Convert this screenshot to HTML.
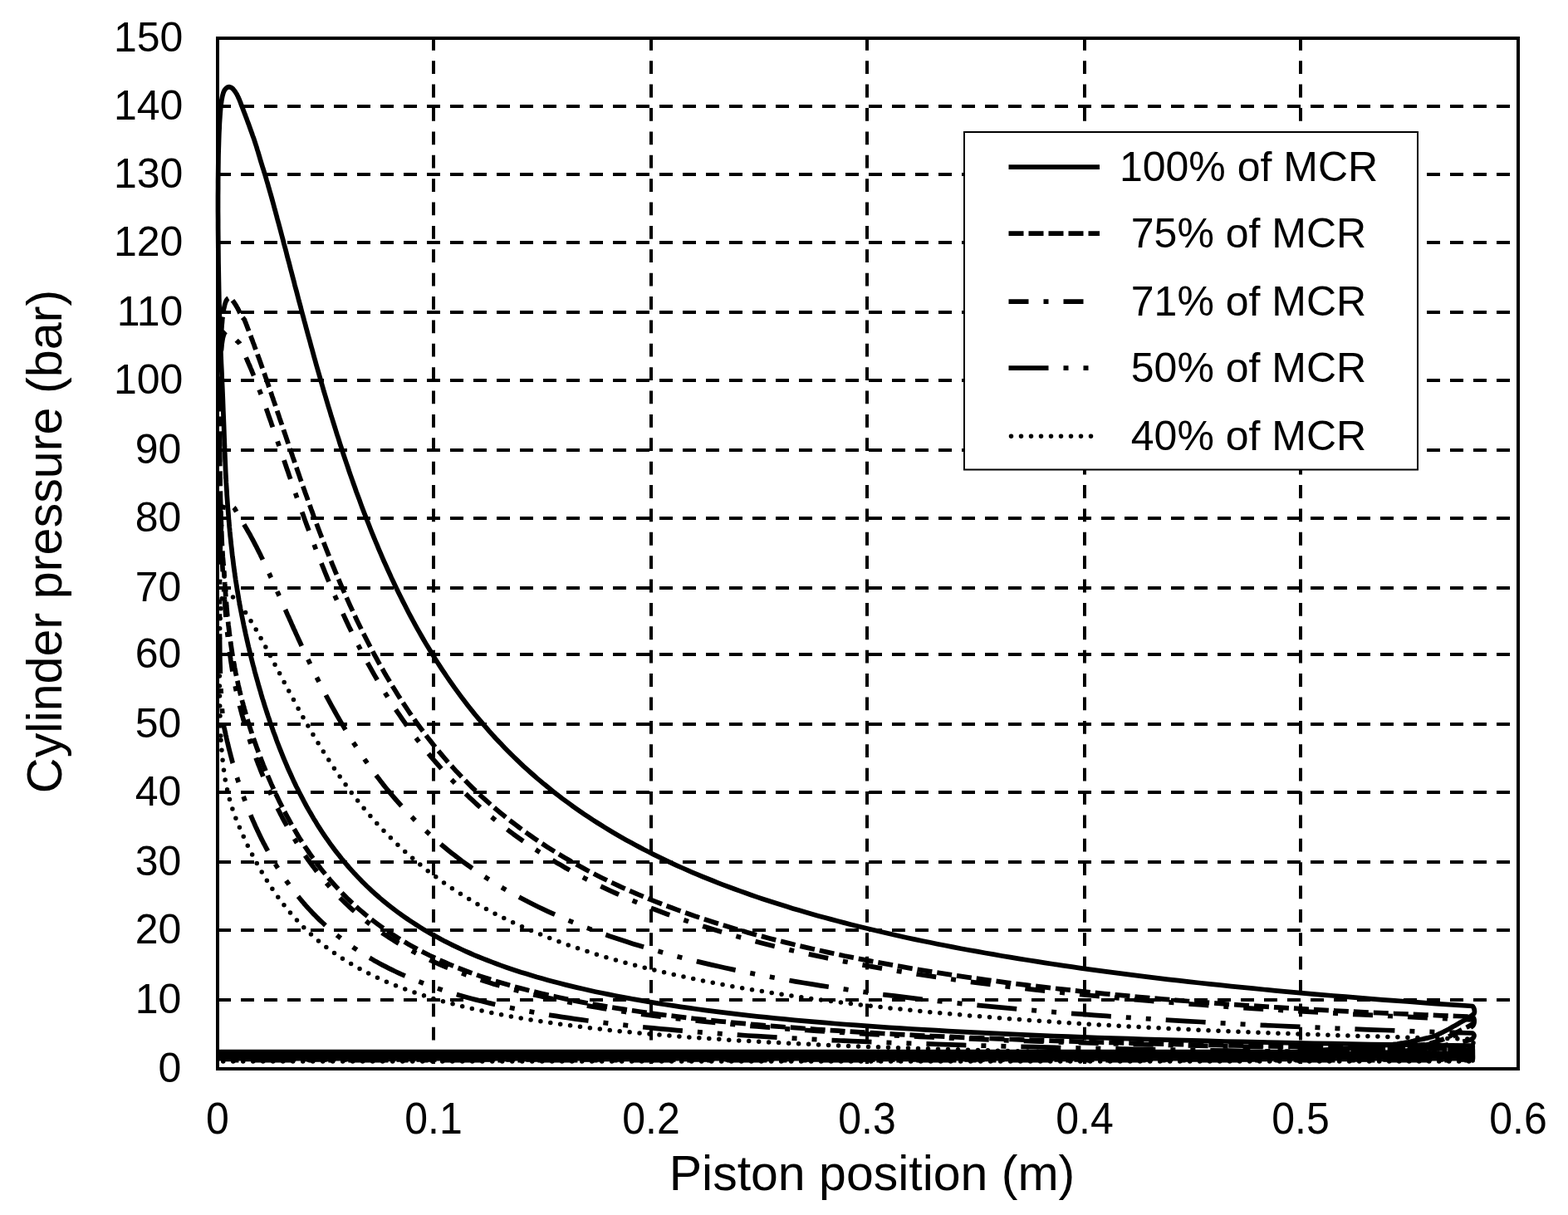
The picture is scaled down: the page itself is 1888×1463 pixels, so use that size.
<!DOCTYPE html><html><head><meta charset="utf-8"><title>Cylinder pressure vs piston position</title><style>html,body{margin:0;padding:0;background:#fff;overflow:hidden}svg{display:block}</style></head><body><svg width="1888" height="1463" viewBox="0 0 1888 1463">
<rect width="1888" height="1463" fill="#fff"/>
<path d="M262 128H1828M262 210H1828M262 292H1828M262 376H1828M262 458H1828M262 542H1828M262 624H1828M262 708H1828M262 788H1828M262 872H1828M262 954H1828M262 1038H1828M262 1120H1828M262 1204H1828" stroke="#000" stroke-width="4" stroke-dasharray="16 12" fill="none"/>
<path d="M522 46V1287M784 46V1287M1044 46V1287M1306 46V1287M1566 46V1287" stroke="#000" stroke-width="4" stroke-dasharray="15.8 12.58" stroke-dashoffset="1.14" fill="none"/>
<rect x="263" y="1266" width="1509" height="10.5" fill="#000"/>
<path d="M1773.2 1277.9L1773.2 1272.8 1743.4 1272.6 1714.2 1272.4 1685.5 1272.2 1657.5 1271.9 1629.9 1271.7 1603.0 1271.5 1576.5 1271.2 1550.6 1270.9 1525.2 1270.7 1500.3 1270.4 1475.8 1270.1 1451.9 1269.8 1428.4 1269.4 1405.4 1269.1 1382.9 1268.7 1360.8 1268.4 1339.1 1268.0 1317.9 1267.6 1297.0 1267.2 1276.6 1266.8 1256.6 1266.4 1237.0 1266.0 1217.8 1265.5 1198.9 1265.1 1180.4 1264.6 1162.3 1264.1 1144.6 1263.6 1127.2 1263.1 1110.1 1262.6 1093.4 1262.1 1077.0 1261.5 1060.9 1260.9 1045.1 1260.4 1029.7 1259.8 1014.6 1259.2 999.7 1258.5 985.2 1257.9 970.9 1257.2 956.9 1256.6 943.2 1255.9 929.8 1255.2 916.6 1254.5 903.7 1253.7 891.0 1253.0 878.6 1252.2 866.5 1251.4 854.6 1250.6 842.9 1249.8 831.4 1249.0 820.2 1248.2 809.2 1247.3 798.4 1246.4 787.8 1245.5 777.4 1244.6 767.3 1243.7 757.3 1242.7 747.5 1241.8 738.0 1240.8 728.6 1239.8 719.4 1238.8 710.4 1237.7 701.5 1236.7 692.8 1235.6 684.3 1234.5 676.0 1233.4 667.9 1232.3 659.8 1231.1 652.0 1230.0 644.3 1228.8 636.8 1227.6 629.4 1226.4 622.1 1225.2 615.0 1223.9 608.1 1222.6 601.2 1221.4 594.6 1220.0 588.0 1218.7 581.6 1217.4 575.3 1216.0 569.1 1214.6 563.0 1213.2 557.1 1211.8 551.3 1210.4 545.6 1208.9 540.0 1207.5 534.5 1206.0 529.1 1204.5 523.8 1203.0 518.7 1201.4 513.6 1199.9 508.7 1198.3 503.8 1196.7 499.0 1195.1 494.4 1193.5 489.8 1191.8 485.3 1190.2 480.9 1188.5 476.6 1186.8 472.3 1185.1 468.2 1183.4 464.1 1181.7 460.1 1179.9 456.2 1178.1 452.4 1176.4 448.6 1174.6 445.0 1172.7 441.3 1170.9 437.8 1169.1 434.3 1167.2 430.9 1165.4 427.6 1163.5 424.3 1161.6 421.1 1159.7 418.0 1157.8 414.9 1155.8 411.9 1153.9 409.0 1152.0 406.1 1150.0 403.2 1148.0 400.4 1146.1 397.7 1144.1 395.0 1142.1 392.4 1140.1 389.8 1138.1 387.3 1136.0 384.8 1134.0 382.4 1132.0 380.0 1129.9 377.7 1127.9 375.4 1125.9 373.2 1123.8 371.0 1121.7 368.8 1119.7 366.7 1117.6 364.7 1115.6 362.6 1113.5 360.7 1111.4 358.7 1109.4 356.8 1107.3 354.9 1105.2 353.1 1103.2 351.3 1101.1 349.5 1099.1 347.8 1097.0 346.1 1094.9 344.5 1092.9 342.8 1090.9 341.3 1088.8 339.7 1086.8 338.2 1084.8 336.7 1082.7 335.2 1080.7 333.7 1078.7 332.3 1076.7 330.9 1074.8 329.6 1072.8 328.2 1070.8 326.9 1068.9 325.7 1066.9 324.4 1065.0 323.2 1063.1 322.0 1061.2 320.8 1059.3 319.6 1057.4 318.5 1055.5 317.4 1053.7 316.3 1051.8 315.2 1050.0 314.2 1048.2 313.1 1046.4 312.1 1044.6 311.1 1042.9 310.2 1041.1 309.2 1039.4 308.3 1037.7 307.4 1036.0 306.5 1034.3 305.6 1032.6 304.7 1031.0 303.9 1029.4 303.1 1027.8 302.3 1026.2 301.5 1024.6 300.7 1023.0 299.9 1021.5 299.2 1020.0 298.4 1018.5 297.7 1017.0 297.0 1015.5 296.3 1014.1 295.7 1012.6 295.0 1011.2 294.3 1009.8 293.7 1008.4 293.1 1007.0 292.5 1005.7 291.9 1004.3 291.3 1003.0 290.7 1001.7 290.1 1000.4 289.6 999.1 289.0 997.8 288.5 996.6 288.0 995.3 287.5 994.1 287.0 992.9 286.5 991.7 286.0 990.5 285.5 989.3 285.0 988.1 284.6 987.0 284.1 985.8 283.7 984.7 283.3 983.5 282.9 982.4 282.5 981.3 282.0 980.2 281.7 979.1 281.3 978.0 280.9 976.9 280.5 975.8 280.1 974.7 279.8 973.6 279.4 972.6 279.1 971.5 278.8 970.4 278.4 969.4 278.1 968.3 277.8 967.3 277.5 966.2 277.2 965.2 276.9 964.1 276.6 963.1 276.3 962.0 276.0 961.0 275.7 960.0 275.5 958.9 275.2 957.9 274.9 956.8 274.7 955.8 274.4 954.7 274.2 953.7 273.9 952.6 273.7 951.6 273.5 950.5 273.3 949.5 273.0 948.4 272.8 947.4 272.6 946.3 272.4 945.2 272.2 944.2 272.0 943.1 271.8 942.0 271.6 940.9 271.4 939.9 271.2 938.8 271.0 937.7 270.9 936.6 270.7 935.5 270.5 934.4 270.3 933.3 270.2 932.2 270.0 931.1 269.9 930.0 269.7 928.9 269.6 927.8 269.4 926.7 269.3 925.6 269.1 924.5 269.0 923.4 268.8 922.2 268.7 921.1 268.6 920.0 268.4 918.9 268.3 917.7 268.2 916.6 268.1 915.5 267.9 914.3 267.8 913.2 267.7 912.1 267.6 910.9 267.5 909.8 267.4 908.7 267.3 907.5 267.2 906.4 267.1 905.3 267.0 904.1 266.9 903.0 266.8 901.9 266.7 900.8 266.6 899.6 266.5 898.5 266.4 897.4 266.3 896.3 266.2 895.2 266.2 894.1 266.1 892.9 266.0 891.8 265.9 890.7 266.1 892.9 266.0 892.2 266.0 893.3 266.0 892.8 265.9 890.7 265.8 887.0 265.6 881.8 265.4 875.8 265.2 869.3 265.0 862.8 264.9 856.8 264.7 851.3 264.6 846.0 264.5 840.7 264.5 835.3 264.4 829.7 264.3 823.7 264.3 817.2 264.3 810.4 264.3 803.3" fill="none" stroke="#000" stroke-width="5.5" stroke-linejoin="round" stroke-dasharray="0 12" stroke-linecap="round" stroke-dashoffset="11.1"/>
<path d="M264.3 803.3L264.3 796.1 264.3 789.1 264.3 782.3 264.4 775.7 264.5 769.2 264.6 762.7 264.7 756.4 264.9 750.5 265.1 745.1 265.4 740.1 265.7 735.3 266.0 730.9 266.4 726.9 266.8 723.4 267.2 720.3 267.7 717.7 268.2 715.7 268.7 714.1 269.2 712.9 269.8 711.9 270.4 711.2 270.9 710.7 271.5 710.6 272.0 710.8 272.6 711.2 273.2 711.6 273.7 712.0 274.3 712.4 274.9 712.9 275.5 713.5 276.0 714.1 276.6 714.7 277.1 715.3 277.7 715.9 278.2 716.5 278.8 717.1 279.3 717.7 279.7 718.1 280.2 718.7 280.8 719.3 281.4 719.9 282.0 720.5 282.6 721.1 283.2 721.8 283.8 722.5 284.5 723.3 284.8 723.6 285.2 724.0 285.5 724.4 285.9 724.8 286.2 725.3 286.6 725.7 286.9 726.1 287.3 726.6 287.7 727.0 288.1 727.5 288.5 728.0 288.9 728.5 289.3 729.0 289.7 729.5 290.1 730.1 290.5 730.6 290.9 731.2 291.4 731.8 291.8 732.4 292.2 733.0 292.7 733.6 293.2 734.2 293.6 734.9 294.1 735.5 294.6 736.2 295.1 736.9 295.6 737.6 296.1 738.4 296.6 739.1 297.1 739.9 297.6 740.7 298.1 741.5 298.7 742.3 299.2 743.2 299.8 744.0 300.3 744.9 300.9 745.8 301.5 746.7 302.1 747.7 302.7 748.7 303.3 749.7 303.9 750.7 304.5 751.7 305.2 752.8 305.8 753.8 306.5 754.9 307.1 756.1 307.8 757.2 308.5 758.4 309.2 759.6 309.9 760.8 310.6 762.1 311.3 763.4 312.1 764.7 312.8 766.0 313.6 767.4 314.3 768.8 315.1 770.2 315.9 771.6 316.7 773.1 317.5 774.6 318.4 776.1 319.2 777.7 320.0 779.3 320.9 780.9 321.8 782.5 322.7 784.2 323.6 785.9 324.5 787.7 325.4 789.4 326.4 791.2 327.4 793.0 328.3 794.9 329.3 796.8 330.3 798.7 331.3 800.7 332.4 802.6 333.4 804.7 334.5 806.7 335.6 808.8 336.7 810.9 337.8 813.0 338.9 815.2 340.1 817.4 341.2 819.6 342.4 821.8 343.6 824.1 344.8 826.4 346.1 828.8 347.3 831.1 348.6 833.6 349.9 836.0 351.2 838.4 352.5 840.9 353.9 843.4 355.3 846.0 356.7 848.6 358.1 851.2 359.5 853.8 361.0 856.4 362.4 859.1 363.9 861.8 365.4 864.5 367.0 867.3 368.6 870.0 370.2 872.8 371.8 875.7 373.4 878.5 375.1 881.4 376.8 884.2 378.5 887.1 380.2 890.1 382.0 893.0 383.8 895.9 385.6 898.9 387.4 901.9 389.3 904.9 391.2 907.9 393.1 911.0 395.1 914.0 397.1 917.1 399.1 920.2 401.1 923.2 403.2 926.3 405.3 929.4 407.4 932.6 409.6 935.7 411.8 938.8 414.1 942.0 416.3 945.1 418.6 948.2 421.0 951.4 423.3 954.6 425.8 957.7 428.2 960.9 430.7 964.0 433.2 967.2 435.7 970.4 438.3 973.5 441.0 976.7 443.6 979.9 446.4 983.0 449.1 986.2 451.9 989.3 454.7 992.5 457.6 995.6 460.5 998.7 463.5 1001.8 466.5 1005.0 469.6 1008.1 472.7 1011.2 475.8 1014.2 479.0 1017.3 482.2 1020.4 485.5 1023.4 488.9 1026.5 492.2 1029.5 495.7 1032.5 499.2 1035.5 502.7 1038.5 506.3 1041.5 509.9 1044.4 513.6 1047.4 517.4 1050.3 521.2 1053.2 525.1 1056.1 529.0 1059.0 533.0 1061.8 537.0 1064.7 541.1 1067.5 545.3 1070.3 549.5 1073.1 553.8 1075.8 558.2 1078.6 562.6 1081.3 567.1 1084.0 571.6 1086.7 576.3 1089.4 581.0 1092.0 585.7 1094.6 590.5 1097.2 595.4 1099.8 600.4 1102.3 605.5 1104.9 610.6 1107.4 615.8 1109.9 621.1 1112.3 626.4 1114.8 631.9 1117.2 637.4 1119.6 643.0 1122.0 648.7 1124.3 654.5 1126.7 660.3 1129.0 666.3 1131.3 672.3 1133.5 678.4 1135.8 684.6 1138.0 691.0 1140.2 697.4 1142.4 703.9 1144.5 710.4 1146.6 717.1 1148.8 723.9 1150.8 730.8 1152.9 737.8 1154.9 744.9 1157.0 752.1 1158.9 759.5 1160.9 766.9 1162.9 774.4 1164.8 782.1 1166.7 789.8 1168.6 797.7 1170.4 805.7 1172.3 813.8 1174.1 822.1 1175.9 830.4 1177.7 838.9 1179.4 847.5 1181.2 856.2 1182.9 865.1 1184.5 874.1 1186.2 883.2 1187.9 892.5 1189.5 901.9 1191.1 911.5 1192.7 921.2 1194.2 931.0 1195.8 941.0 1197.3 951.1 1198.8 961.4 1200.3 971.9 1201.7 982.5 1203.2 993.2 1204.6 1004.1 1206.0 1015.2 1207.4 1026.4 1208.7 1037.9 1210.1 1049.4 1211.4 1061.2 1212.7 1073.1 1214.0 1085.2 1215.2 1097.5 1216.5 1110.0 1217.7 1122.6 1218.9 1135.5 1220.1 1148.5 1221.2 1161.7 1222.4 1175.2 1223.5 1188.8 1224.6 1202.6 1225.7 1216.7 1226.8 1230.9 1227.8 1245.4 1228.9 1260.1 1229.9 1275.0 1230.9 1290.1 1231.9 1305.4 1232.8 1321.0 1233.8 1336.8 1234.7 1352.9 1235.6 1369.1 1236.5 1385.7 1237.3 1402.4 1238.2 1419.5 1239.0 1436.7 1239.9 1454.3 1240.6 1472.1 1241.4 1490.1 1242.2 1508.4 1242.9 1527.1 1243.7 1545.9 1244.4 1565.1 1245.1 1584.5 1245.8 1604.3 1246.4 1624.3 1247.1 1644.7 1247.7 1665.3 1248.3 1686.2 1248.9 1707.5 1249.5 1729.1 1250.0 1751.0 1250.6 1773.2 1251.1 1773.9 1251.8 1774.3 1252.3 1774.7 1252.9 1775.0 1253.4 1775.0 1254.0 1774.8 1254.6 1774.4 1255.2 1774.0 1255.8 1773.3 1256.4 1772.5 1257.0 1771.5 1257.5 1770.4 1258.0 1769.1 1258.4 1767.7 1258.8 1766.1 1259.2 1764.2 1259.6 1762.0 1260.0 1759.5 1260.4 1756.7 1260.8 1753.7 1261.2 1750.4 1261.6 1746.8 1262.0 1743.0 1262.5 1738.9 1263.0 1734.6 1263.6 1730.0 1264.2 1725.2 1264.8 1720.2 1265.4 1715.0 1266.0 1709.6 1266.6 1704.0 1267.2 1698.2 1267.8 1692.3 1268.4 1686.2 1269.0 1680.0 1269.5 1673.6 1269.9 1667.0 1270.3 1660.3 1270.7 1653.5 1271.0 1646.7 1271.3 1640.0 1271.5 1632.9 1271.7 1625.2 1271.8 1617.5 1271.9 1610.4 1272.0 1604.4 1272.1 1600.0 1272.1 1540.0 1272.1 263.0 1272.1 263.0 1277.9 1773.2 1277.9" fill="none" stroke="#000" stroke-width="5.5" stroke-linejoin="round" stroke-dasharray="0 12" stroke-linecap="round" stroke-dashoffset="1.4"/>
<path d="M1773.2 1276.7L1773.2 1268.4 1746.3 1268.2 1719.9 1267.9 1694.0 1267.7 1668.5 1267.4 1643.4 1267.2 1618.9 1266.9 1594.7 1266.6 1571.0 1266.4 1547.7 1266.1 1524.8 1265.8 1502.4 1265.5 1480.3 1265.2 1458.6 1264.8 1437.3 1264.5 1416.4 1264.2 1395.9 1263.8 1375.7 1263.5 1355.9 1263.1 1336.4 1262.7 1317.3 1262.4 1298.5 1262.0 1280.1 1261.6 1262.0 1261.1 1244.2 1260.7 1226.7 1260.3 1209.5 1259.8 1192.7 1259.4 1176.1 1258.9 1159.9 1258.4 1143.9 1257.9 1128.2 1257.4 1112.8 1256.9 1097.6 1256.4 1082.8 1255.9 1068.2 1255.3 1053.8 1254.7 1039.7 1254.2 1025.9 1253.6 1012.3 1253.0 998.9 1252.4 985.8 1251.7 973.0 1251.1 960.3 1250.4 947.9 1249.8 935.7 1249.1 923.7 1248.4 911.9 1247.7 900.4 1247.0 889.0 1246.2 877.8 1245.5 866.9 1244.7 856.1 1243.9 845.5 1243.1 835.2 1242.3 825.0 1241.4 814.9 1240.6 805.1 1239.7 795.4 1238.8 786.0 1237.9 776.6 1237.0 767.5 1236.1 758.5 1235.1 749.6 1234.1 741.0 1233.1 732.4 1232.1 724.1 1231.1 715.9 1230.1 707.8 1229.0 699.8 1227.9 692.1 1226.8 684.4 1225.7 676.9 1224.6 669.5 1223.4 662.3 1222.3 655.1 1221.1 648.1 1219.9 641.3 1218.6 634.5 1217.4 627.9 1216.1 621.4 1214.8 615.0 1213.5 608.7 1212.2 602.5 1210.9 596.5 1209.5 590.5 1208.1 584.7 1206.7 578.9 1205.3 573.3 1203.9 567.8 1202.4 562.3 1200.9 557.0 1199.4 551.7 1197.9 546.6 1196.4 541.5 1194.8 536.5 1193.3 531.7 1191.7 526.9 1190.1 522.1 1188.5 517.5 1186.8 513.0 1185.2 508.5 1183.5 504.1 1181.8 499.8 1180.1 495.6 1178.3 491.4 1176.6 487.3 1174.8 483.3 1173.1 479.4 1171.3 475.5 1169.5 471.7 1167.6 468.0 1165.8 464.3 1163.9 460.7 1162.1 457.2 1160.2 453.7 1158.3 450.3 1156.4 447.0 1154.4 443.7 1152.5 440.4 1150.6 437.3 1148.6 434.1 1146.6 431.1 1144.6 428.1 1142.6 425.1 1140.6 422.2 1138.6 419.4 1136.6 416.6 1134.5 413.8 1132.5 411.1 1130.4 408.5 1128.3 405.8 1126.3 403.3 1124.2 400.8 1122.1 398.3 1120.0 395.9 1117.9 393.5 1115.8 391.2 1113.7 388.9 1111.5 386.6 1109.4 384.4 1107.3 382.2 1105.2 380.1 1103.0 378.0 1100.9 375.9 1098.7 373.9 1096.6 371.9 1094.4 369.9 1092.3 368.0 1090.1 366.1 1088.0 364.3 1085.8 362.5 1083.7 360.7 1081.5 358.9 1079.4 357.2 1077.3 355.5 1075.1 353.8 1073.0 352.2 1070.8 350.6 1068.7 349.0 1066.6 347.5 1064.4 345.9 1062.3 344.5 1060.2 343.0 1058.1 341.5 1056.0 340.1 1053.9 338.7 1051.8 337.4 1049.7 336.0 1047.6 334.7 1045.5 333.4 1043.5 332.1 1041.4 330.9 1039.3 329.7 1037.3 328.5 1035.3 327.3 1033.2 326.1 1031.2 325.0 1029.2 323.9 1027.2 322.8 1025.2 321.7 1023.2 320.6 1021.3 319.6 1019.3 318.6 1017.3 317.5 1015.4 316.6 1013.5 315.6 1011.6 314.6 1009.6 313.7 1007.7 312.8 1005.9 311.9 1004.0 311.0 1002.1 310.1 1000.3 309.3 998.4 308.4 996.6 307.6 994.8 306.8 993.0 306.0 991.2 305.2 989.4 304.4 987.6 303.7 985.9 302.9 984.1 302.2 982.4 301.5 980.7 300.8 979.0 300.1 977.3 299.4 975.6 298.8 974.0 298.1 972.3 297.5 970.7 296.8 969.0 296.2 967.4 295.6 965.8 295.0 964.2 294.4 962.6 293.8 961.1 293.3 959.5 292.7 958.0 292.2 956.5 291.6 955.0 291.1 953.5 290.6 952.0 290.1 950.5 289.6 949.0 289.1 947.6 288.6 946.1 288.1 944.7 287.7 943.3 287.2 941.9 286.8 940.5 286.3 939.1 285.9 937.8 285.5 936.4 285.0 935.1 284.6 933.8 284.2 932.4 283.8 931.1 283.4 929.9 283.1 928.6 282.7 927.3 282.3 926.1 282.0 924.8 281.6 923.6 281.3 922.4 280.9 921.2 280.6 920.0 280.2 918.8 279.9 917.6 279.6 916.5 279.3 915.3 279.0 914.2 278.7 913.0 278.4 911.9 278.1 910.8 277.8 909.7 277.5 908.7 277.3 907.6 277.0 906.5 276.7 905.5 276.5 904.5 276.2 903.4 275.9 902.4 275.7 901.4 275.4 900.4 275.2 899.4 275.0 898.5 274.7 897.5 274.5 896.6 274.3 895.6 274.1 894.7 273.9 893.8 273.6 892.9 273.4 892.0 273.2 891.1 273.0 890.2 272.8 889.4 272.6 888.5 272.5 887.7 272.3 886.8 272.1 886.0 271.9 885.2 271.7 884.4 271.6 883.6 271.4 882.8 271.2 882.0 271.1 881.3 270.9 880.5 270.7 879.8 270.6 879.0 270.4 878.3 270.3 877.6 270.1 876.9 270.0 876.2 269.8 875.5 269.7 874.8 269.6 874.2 269.4 873.5 269.3 872.8 269.2 872.2 269.0 871.6 269.3 872.8 269.2 872.3 269.2 872.8 269.2 873.4 269.0 871.6 268.8 869.1 268.5 865.9 268.1 862.1 267.7 857.8 267.3 853.2 267.0 848.5 266.7 843.7 266.4 838.5 266.1 833.1 265.8 827.4 265.6 821.5 265.4 815.4 265.2 809.1 265.1 802.6 264.9 795.8 264.8 788.8 264.7 781.5 264.6 774.1 264.5 766.3 264.5 758.1 264.4 749.8 264.4 741.3 264.3 732.8" fill="none" stroke="#000" stroke-width="5.75" stroke-linejoin="round" stroke-dasharray="48 18 6 18 6 18" stroke-dashoffset="65.8"/>
<path d="M264.3 732.8L264.3 724.4 264.4 716.0 264.4 707.4 264.5 698.8 264.6 690.4 264.7 682.3 264.9 674.8 265.0 667.7 265.2 661.0 265.4 654.6 265.6 648.6 265.9 642.9 266.2 637.5 266.5 632.5 266.9 627.8 267.2 623.4 267.6 619.4 268.1 615.8 268.5 612.7 269.0 610.2 269.5 608.2 270.0 606.6 270.6 605.3 271.1 604.4 271.7 603.6 272.2 603.2 272.7 603.0 273.3 603.2 273.9 603.6 274.5 604.0 275.1 604.5 275.7 605.0 276.3 605.6 277.0 606.3 277.7 607.1 278.3 607.9 279.0 608.6 279.6 609.3 280.3 610.0 281.0 610.7 281.7 611.4 282.2 612.0 282.6 612.5 283.0 612.9 283.1 613.4 283.5 614.1 283.8 614.7 284.2 615.3 284.5 615.8 284.8 616.4 285.1 617.0 285.5 617.6 285.8 618.2 286.1 618.8 286.5 619.3 286.9 620.0 287.2 620.6 287.6 621.2 287.9 621.8 288.3 622.4 288.7 623.1 289.1 623.7 289.5 624.4 289.9 625.0 290.3 625.7 290.7 626.4 291.1 627.1 291.5 627.8 292.0 628.5 292.4 629.2 292.8 629.9 293.3 630.7 293.7 631.4 294.2 632.2 294.6 633.0 295.1 633.8 295.6 634.6 296.1 635.4 296.6 636.2 297.1 637.1 297.6 638.0 298.1 638.9 298.6 639.8 299.2 640.7 299.7 641.7 300.2 642.6 300.8 643.6 301.4 644.6 301.9 645.6 302.5 646.7 303.1 647.8 303.7 648.9 304.3 650.0 304.9 651.1 305.5 652.3 306.1 653.5 306.8 654.7 307.4 656.0 308.1 657.2 308.8 658.5 309.4 659.9 310.1 661.2 310.8 662.6 311.5 664.0 312.2 665.4 313.0 666.9 313.7 668.4 314.4 670.0 315.2 671.5 316.0 673.1 316.8 674.8 317.5 676.4 318.4 678.1 319.2 679.9 320.0 681.6 320.8 683.4 321.7 685.3 322.5 687.1 323.4 689.0 324.3 691.0 325.2 693.0 326.1 695.0 327.1 697.0 328.0 699.1 329.0 701.2 329.9 703.4 330.9 705.6 331.9 707.8 332.9 710.1 333.9 712.4 335.0 714.7 336.0 717.1 337.1 719.5 338.2 722.0 339.3 724.5 340.4 727.0 341.5 729.6 342.7 732.2 343.9 734.8 345.0 737.5 346.2 740.2 347.5 742.9 348.7 745.7 350.0 748.5 351.2 751.4 352.5 754.3 353.8 757.2 355.2 760.1 356.5 763.1 357.9 766.1 359.3 769.2 360.7 772.2 362.1 775.3 363.5 778.5 365.0 781.6 366.5 784.8 368.0 788.0 369.5 791.3 371.1 794.5 372.7 797.8 374.3 801.2 375.9 804.5 377.6 807.9 379.2 811.3 380.9 814.7 382.6 818.1 384.4 821.6 386.2 825.0 388.0 828.5 389.8 832.0 391.6 835.5 393.5 839.1 395.4 842.6 397.3 846.2 399.3 849.8 401.3 853.4 403.3 857.0 405.3 860.6 407.4 864.2 409.5 867.9 411.6 871.5 413.8 875.1 416.0 878.8 418.2 882.5 420.5 886.1 422.8 889.8 425.1 893.5 427.5 897.1 429.9 900.8 432.3 904.5 434.8 908.1 437.3 911.8 439.8 915.5 442.4 919.1 445.0 922.8 447.6 926.4 450.3 930.1 453.0 933.7 455.8 937.3 458.6 940.9 461.4 944.6 464.3 948.2 467.3 951.8 470.2 955.3 473.2 958.9 476.3 962.5 479.4 966.0 482.5 969.5 485.7 973.0 489.0 976.5 492.2 980.0 495.6 983.5 499.0 987.0 502.4 990.4 505.9 993.8 509.4 997.2 513.0 1000.6 516.6 1004.0 520.3 1007.3 524.0 1010.6 527.8 1013.9 531.7 1017.2 535.6 1020.5 539.5 1023.7 543.5 1026.9 547.6 1030.1 551.7 1033.3 555.9 1036.5 560.2 1039.6 564.5 1042.7 568.9 1045.8 573.3 1048.9 577.8 1051.9 582.4 1054.9 587.0 1057.9 591.7 1060.9 596.5 1063.8 601.3 1066.8 606.2 1069.7 611.2 1072.5 616.3 1075.4 621.4 1078.2 626.6 1081.0 631.9 1083.8 637.2 1086.5 642.6 1089.3 648.1 1092.0 653.7 1094.6 659.4 1097.3 665.1 1099.9 671.0 1102.5 676.9 1105.1 682.9 1107.7 689.0 1110.2 695.2 1112.7 701.4 1115.2 707.8 1117.6 714.2 1120.0 720.8 1122.5 727.4 1124.8 734.1 1127.2 741.0 1129.5 747.9 1131.8 754.9 1134.1 762.1 1136.4 769.3 1138.6 776.6 1140.8 784.1 1143.0 791.6 1145.1 799.3 1147.3 807.1 1149.4 814.9 1151.5 822.9 1153.6 831.1 1155.6 839.3 1157.6 847.6 1159.6 856.1 1161.6 864.7 1163.5 873.4 1165.5 882.3 1167.4 891.3 1169.2 900.4 1171.1 909.6 1172.9 919.0 1174.7 928.5 1176.5 938.1 1178.3 947.9 1180.0 957.8 1181.8 967.9 1183.5 978.1 1185.1 988.4 1186.8 998.9 1188.4 1009.6 1190.0 1020.4 1191.6 1031.4 1193.2 1042.5 1194.7 1053.8 1196.3 1065.3 1197.8 1076.9 1199.2 1088.7 1200.7 1100.6 1202.1 1112.8 1203.5 1125.1 1204.9 1137.6 1206.3 1150.2 1207.7 1163.1 1209.0 1176.1 1210.3 1189.3 1211.6 1202.8 1212.9 1216.4 1214.1 1230.2 1215.4 1244.2 1216.6 1258.4 1217.8 1272.8 1218.9 1287.4 1220.1 1302.3 1221.2 1317.3 1222.3 1332.6 1223.4 1348.1 1224.5 1363.8 1225.6 1379.7 1226.6 1395.9 1227.6 1412.3 1228.6 1428.9 1229.6 1445.8 1230.5 1462.9 1231.5 1480.3 1232.4 1497.9 1233.3 1515.8 1234.2 1533.9 1235.0 1552.3 1235.9 1571.0 1236.7 1589.9 1237.5 1609.2 1238.3 1628.6 1239.1 1648.4 1239.8 1668.5 1240.5 1688.8 1241.3 1709.5 1242.0 1730.4 1242.6 1751.6 1243.3 1773.2 1244.0 1773.8 1244.7 1774.3 1245.2 1774.6 1245.8 1774.9 1246.4 1775.0 1247.0 1774.9 1247.6 1774.7 1248.3 1774.3 1249.0 1773.9 1249.7 1773.3 1250.4 1772.5 1251.0 1771.6 1251.5 1770.5 1251.9 1769.3 1252.3 1768.0 1252.7 1766.6 1253.1 1765.0 1253.5 1763.3 1253.9 1761.6 1254.3 1759.7 1254.7 1757.6 1255.1 1755.4 1255.5 1753.0 1256.0 1750.4 1256.5 1747.7 1257.1 1744.8 1257.7 1741.7 1258.3 1738.5 1258.9 1735.0 1259.5 1731.3 1260.1 1727.4 1260.7 1723.2 1261.2 1719.0 1261.8 1714.5 1262.4 1710.0 1263.0 1705.4 1263.6 1700.7 1264.2 1695.9 1264.8 1690.9 1265.4 1685.6 1266.0 1680.0 1266.5 1673.9 1267.0 1667.4 1267.4 1660.6 1267.9 1653.7 1268.3 1646.8 1268.7 1640.0 1269.0 1632.9 1269.3 1625.2 1269.6 1617.5 1269.9 1610.4 1270.1 1604.4 1270.3 1600.0 1270.5 1540.0 1270.5 263.0 1270.5 263.0 1276.7 1773.2 1276.7" fill="none" stroke="#000" stroke-width="5.75" stroke-linejoin="round" stroke-dasharray="48 18 6 18 6 18" stroke-dashoffset="60.8"/>
<path d="M1773.2 1275.8L1773.2 1264.4 1746.8 1264.1 1720.9 1263.7 1695.5 1263.4 1670.5 1263.1 1645.9 1262.7 1621.7 1262.4 1598.0 1262.0 1574.7 1261.6 1551.8 1261.3 1529.3 1260.9 1507.2 1260.5 1485.5 1260.0 1464.1 1259.6 1443.1 1259.2 1422.5 1258.7 1402.3 1258.2 1382.4 1257.8 1362.8 1257.3 1343.6 1256.8 1324.8 1256.3 1306.2 1255.7 1288.0 1255.2 1270.1 1254.6 1252.5 1254.1 1235.2 1253.5 1218.3 1252.9 1201.6 1252.3 1185.2 1251.7 1169.1 1251.0 1153.2 1250.4 1137.7 1249.7 1122.4 1249.0 1107.4 1248.3 1092.7 1247.6 1078.2 1246.9 1063.9 1246.2 1049.9 1245.4 1036.2 1244.6 1022.7 1243.8 1009.4 1243.0 996.4 1242.2 983.6 1241.4 971.0 1240.5 958.6 1239.6 946.4 1238.8 934.5 1237.8 922.8 1236.9 911.2 1236.0 899.9 1235.0 888.8 1234.0 877.8 1233.0 867.1 1232.0 856.5 1231.0 846.2 1229.9 836.0 1228.8 826.0 1227.7 816.1 1226.6 806.5 1225.5 797.0 1224.3 787.6 1223.1 778.5 1221.9 769.4 1220.7 760.6 1219.5 751.9 1218.2 743.3 1216.9 734.9 1215.6 726.7 1214.3 718.6 1213.0 710.6 1211.6 702.8 1210.2 695.1 1208.8 687.6 1207.3 680.1 1205.9 672.8 1204.4 665.7 1202.9 658.6 1201.4 651.7 1199.8 644.9 1198.3 638.2 1196.7 631.7 1195.0 625.2 1193.4 618.9 1191.7 612.6 1190.1 606.5 1188.3 600.5 1186.6 594.6 1184.9 588.8 1183.1 583.1 1181.3 577.5 1179.5 572.0 1177.6 566.6 1175.7 561.3 1173.9 556.1 1171.9 550.9 1170.0 545.9 1168.0 540.9 1166.1 536.1 1164.1 531.3 1162.0 526.6 1160.0 522.0 1157.9 517.4 1155.8 513.0 1153.7 508.6 1151.6 504.3 1149.4 500.1 1147.2 495.9 1145.0 491.8 1142.8 487.8 1140.6 483.9 1138.3 480.0 1136.0 476.2 1133.7 472.5 1131.4 468.8 1129.1 465.2 1126.7 461.6 1124.4 458.2 1122.0 454.7 1119.6 451.4 1117.2 448.1 1114.7 444.8 1112.3 441.6 1109.8 438.5 1107.3 435.4 1104.8 432.4 1102.3 429.4 1099.8 426.5 1097.2 423.6 1094.7 420.8 1092.1 418.0 1089.5 415.3 1086.9 412.6 1084.3 410.0 1081.7 407.4 1079.1 404.9 1076.5 402.4 1073.8 400.0 1071.2 397.5 1068.5 395.2 1065.9 392.9 1063.2 390.6 1060.5 388.3 1057.8 386.1 1055.2 384.0 1052.5 381.8 1049.8 379.7 1047.1 377.7 1044.4 375.7 1041.7 373.7 1039.0 371.7 1036.3 369.8 1033.6 367.9 1030.9 366.1 1028.2 364.3 1025.5 362.5 1022.8 360.7 1020.1 359.0 1017.4 357.3 1014.7 355.7 1012.0 354.0 1009.3 352.4 1006.7 350.8 1004.0 349.3 1001.4 347.8 998.7 346.3 996.1 344.8 993.4 343.4 990.8 341.9 988.2 340.5 985.6 339.2 983.0 337.8 980.4 336.5 977.8 335.2 975.2 333.9 972.7 332.7 970.1 331.4 967.6 330.2 965.1 329.0 962.5 327.9 960.0 326.7 957.6 325.6 955.1 324.5 952.6 323.4 950.2 322.3 947.8 321.3 945.3 320.2 942.9 319.2 940.6 318.2 938.2 317.2 935.8 316.3 933.5 315.3 931.2 314.4 928.9 313.5 926.6 312.6 924.3 311.7 922.0 310.8 919.8 310.0 917.5 309.1 915.3 308.3 913.1 307.5 910.9 306.7 908.7 305.9 906.5 305.2 904.4 304.4 902.3 303.7 900.1 303.0 898.0 302.2 895.9 301.5 893.9 300.8 891.8 300.2 889.7 299.5 887.7 298.8 885.7 298.2 883.6 297.6 881.6 297.0 879.6 296.3 877.6 295.7 875.7 295.2 873.7 294.6 871.7 294.0 869.8 293.5 867.9 292.9 865.9 292.4 864.0 291.8 862.1 291.3 860.2 290.8 858.3 290.3 856.4 289.8 854.5 289.3 852.6 288.8 850.8 288.4 848.9 287.9 847.0 287.5 845.2 287.0 843.3 286.6 841.4 286.2 839.6 285.7 837.7 285.3 835.9 284.9 834.1 284.5 832.2 284.1 830.4 283.7 828.5 283.4 826.7 283.0 824.8 282.6 823.0 282.3 821.1 281.9 819.3 281.6 817.4 281.2 815.6 280.9 813.7 280.5 811.9 280.2 810.0 279.9 808.1 279.6 806.2 279.3 804.4 279.0 802.5 278.7 800.6 278.4 798.7 278.1 796.8 277.8 794.9 277.6 793.0 277.3 791.1 277.0 789.2 276.8 787.2 276.5 785.3 276.2 783.4 276.0 781.4 275.8 779.4 275.5 777.5 275.3 775.5 275.0 773.5 274.8 771.5 274.6 769.5 274.4 767.5 274.2 765.5 273.9 763.5 273.7 761.5 273.5 759.4 273.3 757.4 273.1 755.3 272.9 753.3 272.7 751.2 272.6 749.1 272.4 747.0 272.2 745.0 272.0 742.9 271.8 740.7 271.7 738.6 271.5 736.5 271.3 734.4 271.2 732.2 271.0 730.1 270.9 728.0 270.7 725.8 270.6 723.6 270.4 721.5 270.3 719.3 270.1 717.1 270.0 714.9 269.8 712.7 270.1 717.1 270.1 716.5 270.0 715.7 270.0 714.9 270.0 715.5 270.0 716.1 270.0 715.2 269.8 712.7 269.6 708.6 269.2 703.2 268.8 696.7 268.3 689.6 267.9 682.2 267.5 674.8 267.1 667.3 266.8 659.4 266.5 651.2 266.2 642.7 265.9 634.0 265.7 625.1 265.4 616.0 265.2 606.4 265.0 596.7 264.9 586.8 264.7 577.0 264.6 567.2 264.5 557.5 264.4 547.6 264.4 537.7 264.3 528.0 264.3 518.5" fill="none" stroke="#000" stroke-width="5.75" stroke-linejoin="round" stroke-dasharray="24 18 6 18"/>
<path d="M264.3 518.5L264.3 509.3 264.4 500.4 264.4 491.7 264.5 483.2 264.6 475.0 264.7 467.1 264.9 459.7 265.1 452.5 265.3 445.6 265.5 439.0 265.8 432.9 266.1 427.4 266.4 422.4 266.8 418.3 267.1 414.7 267.5 411.8 267.9 409.3 268.3 407.1 268.8 405.1 269.3 403.4 269.8 402.1 270.3 401.1 270.8 400.3 271.4 399.8 271.9 399.3 272.5 398.9 273.1 398.7 273.7 398.7 274.3 398.8 274.9 399.0 275.6 399.3 276.2 399.7 276.9 400.3 277.6 401.0 278.3 401.8 279.0 402.6 279.7 403.4 280.5 404.3 281.2 405.3 282.0 406.3 282.7 407.3 283.4 408.3 284.2 409.2 285.0 410.1 285.8 410.9 286.7 411.7 287.4 412.4 288.1 413.0 288.6 413.5 289.0 414.1 289.1 414.7 289.4 415.2 289.7 416.1 290.1 416.9 290.5 417.8 290.9 418.6 291.3 419.5 291.7 420.4 292.1 421.3 292.5 422.2 292.9 423.1 293.3 424.0 293.7 425.0 294.2 425.9 294.6 426.9 295.0 427.9 295.5 428.9 295.9 429.9 296.4 431.0 296.9 432.0 297.4 433.1 297.8 434.2 298.3 435.3 298.8 436.4 299.3 437.6 299.8 438.7 300.3 439.9 300.9 441.1 301.4 442.4 301.9 443.6 302.5 444.9 303.0 446.2 303.6 447.6 304.1 448.9 304.7 450.3 305.3 451.8 305.9 453.2 306.5 454.7 307.1 456.2 307.7 457.7 308.3 459.3 308.9 460.9 309.6 462.5 310.2 464.2 310.9 465.9 311.6 467.7 312.2 469.4 312.9 471.2 313.6 473.1 314.3 474.9 315.0 476.9 315.7 478.8 316.5 480.8 317.2 482.8 318.0 484.9 318.7 487.0 319.5 489.1 320.3 491.3 321.1 493.5 321.9 495.8 322.7 498.1 323.5 500.5 324.3 502.8 325.2 505.3 326.1 507.7 326.9 510.2 327.8 512.8 328.7 515.4 329.6 518.0 330.5 520.7 331.5 523.4 332.4 526.2 333.4 529.0 334.3 531.8 335.3 534.7 336.3 537.6 337.3 540.6 338.4 543.6 339.4 546.6 340.4 549.7 341.5 552.8 342.6 556.0 343.7 559.2 344.8 562.5 345.9 565.8 347.1 569.1 348.2 572.5 349.4 575.9 350.6 579.3 351.8 582.8 353.0 586.3 354.2 589.9 355.5 593.5 356.8 597.1 358.1 600.8 359.4 604.5 360.7 608.2 362.0 612.0 363.4 615.8 364.8 619.6 366.2 623.5 367.6 627.4 369.0 631.3 370.5 635.3 372.0 639.2 373.5 643.3 375.0 647.3 376.5 651.4 378.1 655.5 379.6 659.6 381.2 663.7 382.9 667.9 384.5 672.1 386.2 676.3 387.9 680.5 389.6 684.7 391.3 689.0 393.1 693.3 394.8 697.6 396.7 701.9 398.5 706.2 400.3 710.6 402.2 715.0 404.1 719.3 406.1 723.7 408.0 728.1 410.0 732.5 412.0 736.9 414.1 741.4 416.1 745.8 418.2 750.2 420.3 754.7 422.5 759.1 424.7 763.6 426.9 768.0 429.1 772.5 431.4 777.0 433.7 781.4 436.1 785.9 438.4 790.4 440.8 794.8 443.3 799.3 445.7 803.7 448.2 808.2 450.7 812.6 453.3 817.0 455.9 821.5 458.6 825.9 461.2 830.3 463.9 834.7 466.7 839.1 469.5 843.5 472.3 847.9 475.1 852.2 478.0 856.6 481.0 860.9 484.0 865.3 487.0 869.6 490.0 873.9 493.1 878.2 496.3 882.4 499.5 886.7 502.7 890.9 506.0 895.1 509.3 899.3 512.7 903.5 516.1 907.7 519.5 911.8 523.0 915.9 526.6 920.0 530.2 924.1 533.8 928.2 537.5 932.2 541.3 936.2 545.1 940.2 548.9 944.2 552.8 948.1 556.8 952.0 560.8 955.9 564.8 959.8 569.0 963.6 573.1 967.5 577.4 971.3 581.6 975.0 586.0 978.8 590.4 982.5 594.9 986.2 599.4 989.9 604.0 993.5 608.6 997.1 613.3 1000.7 618.1 1004.3 623.0 1007.8 627.9 1011.3 632.9 1014.8 637.9 1018.3 643.0 1021.7 648.2 1025.1 653.4 1028.4 658.8 1031.8 664.2 1035.1 669.6 1038.4 675.2 1041.6 680.8 1044.9 686.5 1048.1 692.3 1051.2 698.1 1054.4 704.0 1057.5 710.1 1060.6 716.2 1063.6 722.3 1066.6 728.6 1069.6 734.9 1072.6 741.4 1075.5 747.9 1078.4 754.5 1081.3 761.2 1084.2 768.0 1087.0 774.9 1089.8 781.8 1092.6 788.9 1095.3 796.1 1098.0 803.3 1100.7 810.7 1103.3 818.2 1105.9 825.7 1108.5 833.4 1111.1 841.2 1113.6 849.0 1116.1 857.0 1118.6 865.1 1121.1 873.3 1123.5 881.6 1125.9 890.1 1128.3 898.6 1130.6 907.3 1132.9 916.0 1135.2 924.9 1137.5 933.9 1139.7 943.1 1141.9 952.3 1144.1 961.7 1146.2 971.2 1148.3 980.9 1150.4 990.7 1152.5 1000.6 1154.5 1010.6 1156.5 1020.8 1158.5 1031.1 1160.5 1041.6 1162.4 1052.2 1164.3 1062.9 1166.2 1073.8 1168.1 1084.9 1169.9 1096.1 1171.7 1107.4 1173.5 1118.9 1175.2 1130.5 1176.9 1142.4 1178.6 1154.3 1180.3 1166.5 1182.0 1178.8 1183.6 1191.2 1185.2 1203.9 1186.8 1216.7 1188.3 1229.7 1189.9 1242.8 1191.4 1256.2 1192.9 1269.7 1194.3 1283.4 1195.7 1297.3 1197.2 1311.4 1198.5 1325.6 1199.9 1340.1 1201.3 1354.8 1202.6 1369.6 1203.9 1384.7 1205.1 1399.9 1206.4 1415.4 1207.6 1431.1 1208.8 1447.0 1210.0 1463.1 1211.2 1479.5 1212.3 1496.0 1213.5 1512.8 1214.6 1529.8 1215.6 1547.1 1216.7 1564.5 1217.7 1582.2 1218.7 1600.2 1219.7 1618.4 1220.7 1636.8 1221.7 1655.5 1222.6 1674.5 1223.5 1693.7 1224.4 1713.2 1225.3 1732.9 1226.1 1752.9 1227.0 1773.2 1227.8 1773.8 1228.3 1774.2 1228.6 1774.6 1229.0 1774.9 1229.4 1775.0 1230.0 1775.0 1230.7 1774.9 1231.5 1774.8 1232.4 1774.5 1233.3 1774.1 1234.2 1773.5 1235.0 1772.7 1235.7 1771.8 1236.4 1770.8 1237.0 1769.6 1237.6 1768.3 1238.3 1767.0 1239.0 1765.5 1239.8 1764.0 1240.6 1762.3 1241.4 1760.5 1242.3 1758.8 1243.1 1757.0 1244.0 1755.2 1244.9 1753.4 1245.8 1751.6 1246.8 1749.8 1247.7 1747.9 1248.6 1746.0 1249.5 1744.1 1250.3 1742.2 1251.1 1740.3 1251.8 1738.3 1252.6 1736.2 1253.3 1734.0 1254.0 1731.6 1254.7 1729.2 1255.4 1726.7 1256.1 1724.0 1256.8 1721.1 1257.4 1718.0 1258.0 1714.7 1258.6 1711.1 1259.1 1707.4 1259.6 1703.4 1260.1 1699.3 1260.5 1695.0 1261.0 1690.5 1261.4 1685.9 1261.9 1681.1 1262.3 1676.0 1262.7 1670.7 1263.1 1665.0 1263.5 1658.8 1263.9 1652.0 1264.4 1645.0 1264.8 1638.0 1265.2 1631.2 1265.6 1625.0 1266.0 1619.1 1266.4 1613.1 1266.8 1607.5 1267.2 1602.4 1267.5 1598.1 1267.8 1595.0 1268.0 1540.0 1268.8 263.0 1268.8 263.0 1275.8 1773.2 1275.8" fill="none" stroke="#000" stroke-width="5.75" stroke-linejoin="round" stroke-dasharray="24 18 6 18" stroke-dashoffset="35.8"/>
<path d="M1773.2 1275.4L1773.2 1263.4 1746.8 1263.1 1720.9 1262.8 1695.5 1262.5 1670.5 1262.1 1645.9 1261.7 1621.7 1261.4 1598.0 1261.0 1574.7 1260.6 1551.8 1260.2 1529.3 1259.8 1507.2 1259.4 1485.5 1258.9 1464.1 1258.5 1443.1 1258.0 1422.5 1257.6 1402.3 1257.1 1382.4 1256.6 1362.8 1256.1 1343.6 1255.5 1324.8 1255.0 1306.2 1254.5 1288.0 1253.9 1270.1 1253.3 1252.5 1252.7 1235.2 1252.1 1218.3 1251.5 1201.6 1250.9 1185.2 1250.2 1169.1 1249.6 1153.2 1248.9 1137.7 1248.2 1122.4 1247.5 1107.4 1246.8 1092.7 1246.0 1078.2 1245.3 1063.9 1244.5 1049.9 1243.7 1036.2 1242.9 1022.7 1242.1 1009.4 1241.2 996.4 1240.4 983.6 1239.5 971.0 1238.6 958.6 1237.7 946.4 1236.8 934.5 1235.8 922.8 1234.9 911.2 1233.9 899.9 1232.9 888.8 1231.9 877.8 1230.8 867.1 1229.8 856.5 1228.7 846.2 1227.6 836.0 1226.5 826.0 1225.3 816.1 1224.1 806.5 1223.0 797.0 1221.8 787.6 1220.5 778.5 1219.3 769.4 1218.0 760.6 1216.7 751.9 1215.4 743.3 1214.1 734.9 1212.7 726.7 1211.3 718.6 1209.9 710.6 1208.5 702.8 1207.1 695.1 1205.6 687.6 1204.1 680.1 1202.6 672.8 1201.0 665.7 1199.5 658.6 1197.9 651.7 1196.3 644.9 1194.6 638.2 1193.0 631.7 1191.3 625.2 1189.6 618.9 1187.9 612.6 1186.1 606.5 1184.3 600.5 1182.5 594.6 1180.7 588.8 1178.8 583.1 1177.0 577.5 1175.1 572.0 1173.1 566.6 1171.2 561.3 1169.2 556.1 1167.2 550.9 1165.2 545.9 1163.2 540.9 1161.1 536.1 1159.0 531.3 1156.9 526.6 1154.8 522.0 1152.6 517.4 1150.5 513.0 1148.3 508.6 1146.0 504.3 1143.8 500.1 1141.5 495.9 1139.2 491.8 1136.9 487.8 1134.6 483.9 1132.3 480.0 1129.9 476.2 1127.5 472.5 1125.1 468.8 1122.7 465.2 1120.2 461.6 1117.7 458.2 1115.3 454.7 1112.7 451.4 1110.2 448.1 1107.7 444.8 1105.1 441.6 1102.6 438.5 1100.0 435.4 1097.4 432.4 1094.8 429.4 1092.1 426.5 1089.5 423.6 1086.8 420.8 1084.1 418.0 1081.5 415.3 1078.8 412.6 1076.1 410.0 1073.3 407.4 1070.6 404.9 1067.9 402.4 1065.1 400.0 1062.4 397.5 1059.6 395.2 1056.8 392.9 1054.1 390.6 1051.3 388.3 1048.5 386.1 1045.7 384.0 1042.9 381.8 1040.1 379.7 1037.3 377.7 1034.5 375.7 1031.7 373.7 1028.9 371.7 1026.0 369.8 1023.2 367.9 1020.4 366.1 1017.6 364.3 1014.8 362.5 1012.0 360.7 1009.2 359.0 1006.4 357.3 1003.6 355.7 1000.8 354.0 998.0 352.4 995.2 350.8 992.5 349.3 989.7 347.8 986.9 346.3 984.2 344.8 981.4 343.4 978.7 341.9 976.0 340.5 973.3 339.2 970.5 337.8 967.8 336.5 965.2 335.2 962.5 333.9 959.8 332.7 957.2 331.4 954.5 330.2 951.9 329.0 949.3 327.9 946.7 326.7 944.1 325.6 941.5 324.5 939.0 323.4 936.4 322.3 933.9 321.3 931.4 320.2 928.9 319.2 926.4 318.2 923.9 317.2 921.5 316.3 919.1 315.3 916.6 314.4 914.2 313.5 911.8 312.6 909.5 311.7 907.1 310.8 904.8 310.0 902.4 309.1 900.1 308.3 897.8 307.5 895.5 306.7 893.3 305.9 891.0 305.2 888.8 304.4 886.6 303.7 884.4 303.0 882.2 302.2 880.0 301.5 877.8 300.8 875.7 300.2 873.5 299.5 871.4 298.8 869.3 298.2 867.2 297.6 865.1 297.0 863.0 296.3 860.9 295.7 858.9 295.2 856.8 294.6 854.8 294.0 852.8 293.5 850.8 292.9 848.7 292.4 846.7 291.8 844.8 291.3 842.8 290.8 840.8 290.3 838.8 289.8 836.9 289.3 834.9 288.8 833.0 288.4 831.0 287.9 829.1 287.5 827.1 287.0 825.2 286.6 823.3 286.2 821.3 285.7 819.4 285.3 817.5 284.9 815.6 284.5 813.6 284.1 811.7 283.7 809.8 283.4 807.9 283.0 806.0 282.6 804.0 282.3 802.1 281.9 800.2 281.6 798.3 281.2 796.3 280.9 794.4 280.5 792.5 280.2 790.5 279.9 788.6 279.6 786.6 279.3 784.7 279.0 782.7 278.7 780.7 278.4 778.8 278.1 776.8 277.8 774.8 277.6 772.8 277.3 770.8 277.0 768.8 276.8 766.8 276.5 764.8 276.2 762.8 276.0 760.8 275.8 758.7 275.5 756.7 275.3 754.6 275.0 752.6 274.8 750.5 274.6 748.4 274.4 746.3 274.2 744.2 273.9 742.1 273.7 740.0 273.5 737.9 273.3 735.8 273.1 733.6 272.9 731.5 272.7 729.3 272.6 727.2 272.4 725.0 272.2 722.8 272.0 720.6 271.8 718.5 271.7 716.3 271.5 714.0 271.3 711.8 271.2 709.6 271.0 707.4 270.9 705.1 270.7 702.9 270.6 700.6 270.4 698.4 270.3 696.1 270.1 693.9 270.0 691.6 269.8 689.3 270.1 693.9 270.1 693.3 270.0 692.4 270.0 691.6 270.0 692.2 270.0 691.3 269.8 689.3 269.6 686.0 269.2 681.8 268.8 676.7 268.3 671.0 267.9 664.8 267.5 658.2 267.1 651.1 266.8 643.4 266.5 635.1 266.2 626.4 265.9 617.6 265.7 608.6 265.4 599.4 265.2 589.9 265.0 580.1 264.9 570.3 264.7 560.4 264.6 550.7 264.5 540.9 264.4 531.1 264.4 521.2 264.3 511.5 264.3 501.9" fill="none" stroke="#000" stroke-width="5.75" stroke-linejoin="round" stroke-dasharray="18 6"/>
<path d="M264.3 501.9L264.3 492.8 264.4 483.9 264.4 475.1 264.5 466.7 264.6 458.4 264.7 450.6 264.9 443.1 265.0 436.1 265.2 429.4 265.4 423.0 265.7 417.0 265.9 411.3 266.2 405.9 266.5 400.8 266.8 396.1 267.1 391.7 267.5 387.6 267.8 383.8 268.3 380.2 268.7 376.9 269.2 373.9 269.7 371.1 270.3 368.6 270.8 366.4 271.4 364.5 272.0 363.0 272.6 361.7 273.2 360.8 273.8 360.1 274.4 359.5 275.1 359.1 275.7 358.9 276.3 358.9 276.9 359.1 277.5 359.5 278.1 359.9 278.7 360.4 279.3 361.0 280.0 361.7 280.6 362.5 281.3 363.4 282.0 364.4 282.6 365.4 283.3 366.4 283.9 367.4 284.6 368.5 285.2 369.6 285.9 370.8 286.5 372.0 287.2 373.2 287.8 374.5 288.3 375.8 288.9 377.0 289.6 378.3 290.2 379.4 290.9 380.5 291.7 381.6 292.5 382.6 293.2 383.5 293.9 384.4 294.4 385.0 294.7 385.4 294.8 386.0 294.9 386.5 295.2 387.1 295.6 388.3 296.1 389.4 296.5 390.6 297.0 391.7 297.4 392.9 297.9 394.1 298.3 395.3 298.8 396.5 299.3 397.8 299.8 399.1 300.3 400.3 300.7 401.6 301.2 403.0 301.8 404.3 302.3 405.7 302.8 407.1 303.3 408.5 303.9 409.9 304.4 411.4 304.9 412.8 305.5 414.3 306.1 415.8 306.6 417.4 307.2 419.0 307.8 420.5 308.4 422.2 309.0 423.8 309.6 425.5 310.2 427.2 310.8 428.9 311.5 430.6 312.1 432.4 312.8 434.2 313.4 436.1 314.1 437.9 314.7 439.8 315.4 441.7 316.1 443.7 316.8 445.7 317.5 447.7 318.3 449.7 319.0 451.8 319.7 453.9 320.5 456.1 321.2 458.2 322.0 460.5 322.8 462.7 323.5 465.0 324.3 467.3 325.1 469.6 326.0 472.0 326.8 474.4 327.6 476.9 328.5 479.3 329.3 481.9 330.2 484.4 331.1 487.0 332.0 489.7 332.9 492.3 333.8 495.0 334.7 497.8 335.7 500.5 336.6 503.4 337.6 506.2 338.6 509.1 339.6 512.0 340.6 515.0 341.6 518.0 342.6 521.0 343.7 524.1 344.7 527.2 345.8 530.4 346.9 533.6 348.0 536.8 349.1 540.1 350.2 543.4 351.4 546.7 352.5 550.1 353.7 553.5 354.9 557.0 356.1 560.5 357.3 564.0 358.5 567.6 359.8 571.2 361.0 574.8 362.3 578.5 363.6 582.2 364.9 585.9 366.3 589.7 367.6 593.5 369.0 597.3 370.4 601.2 371.8 605.1 373.2 609.0 374.6 613.0 376.1 616.9 377.5 621.0 379.0 625.0 380.6 629.1 382.1 633.2 383.6 637.3 385.2 641.5 386.8 645.6 388.4 649.8 390.1 654.1 391.7 658.3 393.4 662.6 395.1 666.9 396.8 671.2 398.6 675.5 400.3 679.9 402.1 684.2 403.9 688.6 405.8 693.0 407.6 697.4 409.5 701.8 411.4 706.3 413.4 710.7 415.3 715.2 417.3 719.7 419.3 724.1 421.3 728.6 423.4 733.1 425.5 737.6 427.6 742.1 429.7 746.7 431.9 751.2 434.1 755.7 436.3 760.2 438.6 764.7 440.9 769.3 443.2 773.8 445.5 778.3 447.9 782.8 450.3 787.3 452.8 791.8 455.2 796.3 457.7 800.8 460.3 805.3 462.8 809.8 465.4 814.3 468.1 818.7 470.7 823.2 473.4 827.6 476.2 832.1 478.9 836.5 481.7 840.9 484.6 845.3 487.5 849.6 490.4 854.0 493.3 858.3 496.3 862.7 499.4 867.0 502.4 871.3 505.5 875.5 508.7 879.8 511.9 884.0 515.1 888.2 518.4 892.4 521.7 896.6 525.1 900.7 528.5 904.8 531.9 908.9 535.4 913.0 538.9 917.1 542.5 921.1 546.2 925.1 549.8 929.1 553.6 933.0 557.3 936.9 561.1 940.8 565.0 944.7 568.9 948.6 572.9 952.4 576.9 956.2 581.0 960.0 585.1 963.7 589.3 967.4 593.5 971.1 597.8 974.8 602.2 978.4 606.6 982.0 611.0 985.6 615.6 989.1 620.1 992.6 624.8 996.1 629.5 999.6 634.2 1003.0 639.0 1006.4 643.9 1009.8 648.8 1013.2 653.9 1016.5 658.9 1019.8 664.1 1023.1 669.3 1026.3 674.5 1029.5 679.9 1032.7 685.3 1035.8 690.8 1039.0 696.3 1042.1 701.9 1045.1 707.6 1048.2 713.4 1051.2 719.2 1054.2 725.1 1057.2 731.1 1060.1 737.2 1063.0 743.3 1065.9 749.6 1068.8 755.9 1071.6 762.3 1074.4 768.7 1077.2 775.3 1079.9 781.9 1082.7 788.7 1085.4 795.5 1088.0 802.4 1090.7 809.4 1093.3 816.4 1095.9 823.6 1098.5 830.9 1101.0 838.2 1103.6 845.7 1106.0 853.3 1108.5 860.9 1111.0 868.7 1113.4 876.5 1115.8 884.5 1118.2 892.5 1120.5 900.7 1122.9 908.9 1125.2 917.3 1127.4 925.8 1129.7 934.4 1131.9 943.1 1134.1 951.9 1136.3 960.8 1138.5 969.8 1140.6 979.0 1142.7 988.3 1144.8 997.7 1146.9 1007.2 1148.9 1016.8 1151.0 1026.6 1152.9 1036.5 1154.9 1046.5 1156.9 1056.7 1158.8 1066.9 1160.7 1077.4 1162.6 1087.9 1164.4 1098.6 1166.3 1109.4 1168.1 1120.4 1169.9 1131.5 1171.6 1142.7 1173.4 1154.1 1175.1 1165.7 1176.8 1177.4 1178.4 1189.2 1180.1 1201.2 1181.7 1213.3 1183.3 1225.7 1184.9 1238.1 1186.4 1250.8 1187.9 1263.5 1189.4 1276.5 1190.9 1289.6 1192.3 1302.9 1193.8 1316.4 1195.2 1330.0 1196.6 1343.8 1197.9 1357.8 1199.2 1372.0 1200.5 1386.4 1201.8 1400.9 1203.1 1415.7 1204.3 1430.6 1205.5 1445.7 1206.7 1461.0 1207.8 1476.5 1209.0 1492.3 1210.1 1508.2 1211.1 1524.3 1212.2 1540.6 1213.2 1557.2 1214.2 1573.9 1215.2 1590.9 1216.2 1608.1 1217.1 1625.5 1218.0 1643.1 1218.8 1661.0 1219.7 1679.1 1220.5 1697.4 1221.3 1716.0 1222.0 1734.8 1222.8 1753.9 1223.5 1773.2 1224.2 1773.8 1225.0 1774.2 1225.5 1774.5 1226.2 1774.8 1226.8 1775.0 1227.5 1775.1 1228.2 1775.1 1228.9 1775.0 1229.7 1774.8 1230.5 1774.5 1231.3 1774.0 1232.0 1773.3 1232.7 1772.5 1233.3 1771.6 1234.0 1770.5 1234.6 1769.3 1235.3 1768.0 1236.0 1766.6 1236.8 1765.0 1237.6 1763.3 1238.4 1761.6 1239.2 1759.8 1240.1 1758.0 1241.0 1756.2 1242.0 1754.4 1243.0 1752.6 1244.0 1750.7 1245.0 1748.8 1246.0 1747.0 1247.0 1745.2 1247.9 1743.5 1248.8 1741.8 1249.6 1740.0 1250.4 1738.1 1251.2 1736.0 1252.0 1733.8 1252.8 1731.5 1253.6 1729.1 1254.3 1726.6 1255.1 1723.9 1255.8 1721.0 1256.5 1718.0 1257.2 1714.8 1257.8 1711.4 1258.4 1707.9 1258.9 1704.1 1259.5 1700.0 1260.0 1695.6 1260.5 1691.0 1260.9 1686.2 1261.3 1681.1 1261.7 1675.7 1262.1 1670.0 1262.5 1663.8 1262.9 1657.0 1263.3 1650.0 1263.7 1643.0 1264.2 1636.2 1264.6 1630.0 1265.0 1624.1 1265.5 1618.1 1266.0 1612.5 1266.5 1607.4 1266.9 1603.1 1267.3 1600.0 1267.6 1540.0 1268.0 263.0 1268.0 263.0 1275.4 1773.2 1275.4" fill="none" stroke="#000" stroke-width="5.75" stroke-linejoin="round" stroke-dasharray="18 6" stroke-dashoffset="17.5"/>
<path d="M1773.2 1274.6L1773.2 1259.2 1747.9 1258.9 1723.0 1258.5 1698.5 1258.2 1674.4 1257.8 1650.7 1257.5 1627.5 1257.1 1604.6 1256.7 1582.1 1256.3 1560.0 1255.8 1538.2 1255.4 1516.8 1254.9 1495.8 1254.4 1475.1 1254.0 1454.8 1253.4 1434.8 1252.9 1415.2 1252.4 1395.8 1251.8 1376.8 1251.3 1358.2 1250.7 1339.8 1250.1 1321.7 1249.5 1304.0 1248.8 1286.5 1248.2 1269.3 1247.5 1252.5 1246.8 1235.9 1246.1 1219.5 1245.4 1203.5 1244.7 1187.7 1243.9 1172.2 1243.2 1156.9 1242.4 1142.0 1241.6 1127.2 1240.7 1112.7 1239.9 1098.5 1239.0 1084.4 1238.2 1070.7 1237.3 1057.1 1236.3 1043.8 1235.4 1030.7 1234.4 1017.8 1233.5 1005.1 1232.5 992.7 1231.4 980.4 1230.4 968.4 1229.4 956.6 1228.3 944.9 1227.2 933.5 1226.1 922.2 1224.9 911.2 1223.8 900.3 1222.6 889.6 1221.4 879.1 1220.1 868.7 1218.9 858.6 1217.6 848.6 1216.3 838.7 1215.0 829.1 1213.7 819.6 1212.3 810.2 1210.9 801.0 1209.5 792.0 1208.1 783.1 1206.6 774.4 1205.2 765.8 1203.7 757.4 1202.2 749.1 1200.6 740.9 1199.0 732.9 1197.4 725.0 1195.8 717.2 1194.2 709.6 1192.5 702.1 1190.8 694.7 1189.1 687.5 1187.4 680.3 1185.6 673.3 1183.8 666.4 1182.0 659.7 1180.2 653.0 1178.3 646.4 1176.5 640.0 1174.6 633.7 1172.6 627.4 1170.7 621.3 1168.7 615.3 1166.7 609.4 1164.7 603.5 1162.6 597.8 1160.5 592.2 1158.4 586.7 1156.3 581.2 1154.1 575.9 1152.0 570.6 1149.8 565.4 1147.5 560.4 1145.3 555.4 1143.0 550.4 1140.7 545.6 1138.4 540.9 1136.0 536.2 1133.7 531.6 1131.3 527.1 1128.8 522.6 1126.4 518.3 1123.9 514.0 1121.4 509.7 1118.9 505.6 1116.4 501.5 1113.8 497.5 1111.2 493.6 1108.6 489.7 1106.0 485.9 1103.4 482.1 1100.7 478.4 1098.0 474.8 1095.3 471.2 1092.5 467.7 1089.8 464.3 1087.0 460.9 1084.2 457.5 1081.4 454.3 1078.5 451.0 1075.7 447.9 1072.8 444.8 1069.9 441.7 1067.0 438.7 1064.0 435.7 1061.1 432.8 1058.1 430.0 1055.1 427.1 1052.1 424.4 1049.1 421.7 1046.1 419.0 1043.0 416.3 1039.9 413.8 1036.9 411.2 1033.8 408.7 1030.6 406.3 1027.5 403.8 1024.4 401.5 1021.2 399.1 1018.1 396.8 1014.9 394.6 1011.7 392.3 1008.5 390.2 1005.3 388.0 1002.1 385.9 998.9 383.8 995.6 381.8 992.4 379.8 989.1 377.8 985.9 375.9 982.6 374.0 979.3 372.1 976.1 370.2 972.8 368.4 969.5 366.6 966.2 364.9 962.9 363.2 959.6 361.5 956.4 359.8 953.1 358.2 949.8 356.5 946.5 355.0 943.2 353.4 939.9 351.9 936.6 350.4 933.3 348.9 930.0 347.4 926.7 346.0 923.5 344.6 920.2 343.2 916.9 341.8 913.7 340.5 910.4 339.2 907.2 337.9 903.9 336.6 900.7 335.4 897.5 334.1 894.2 332.9 891.0 331.8 887.8 330.6 884.6 329.4 881.5 328.3 878.3 327.2 875.1 326.1 872.0 325.0 868.9 324.0 865.7 322.9 862.6 321.9 859.5 320.9 856.5 319.9 853.4 318.9 850.3 318.0 847.3 317.1 844.3 316.1 841.3 315.2 838.3 314.3 835.3 313.5 832.3 312.6 829.4 311.7 826.4 310.9 823.5 310.1 820.6 309.3 817.7 308.5 814.9 307.7 812.0 306.9 809.2 306.2 806.3 305.5 803.5 304.7 800.7 304.0 798.0 303.3 795.2 302.6 792.5 301.9 789.7 301.3 787.0 300.6 784.3 300.0 781.6 299.3 778.9 298.7 776.3 298.1 773.6 297.5 771.0 296.9 768.3 296.3 765.7 295.7 763.1 295.2 760.5 294.6 758.0 294.1 755.4 293.5 752.8 293.0 750.3 292.5 747.7 292.0 745.2 291.5 742.7 291.0 740.2 290.5 737.7 290.0 735.2 289.5 732.7 289.1 730.2 288.6 727.7 288.2 725.2 287.7 722.8 287.3 720.3 286.9 717.8 286.5 715.4 286.1 712.9 285.6 710.4 285.3 708.0 284.9 705.5 284.5 703.1 284.1 700.6 283.7 698.1 283.4 695.7 283.0 693.2 282.7 690.7 282.3 688.3 282.0 685.8 281.6 683.3 281.3 680.8 281.0 678.3 280.7 675.8 280.4 673.3 280.0 670.8 279.7 668.3 279.4 665.7 279.2 663.2 278.9 660.6 278.6 658.1 278.3 655.5 278.0 652.9 277.8 650.3 277.5 647.7 277.2 645.1 277.0 642.5 276.7 639.8 276.5 637.2 276.2 634.5 276.0 631.8 275.8 629.1 275.5 626.4 275.3 623.7 275.1 620.9 274.9 618.2 274.7 615.4 274.4 612.6 274.2 609.8 274.0 607.0 273.8 604.2 273.6 601.3 273.4 598.4 273.2 595.6 273.1 592.7 272.9 589.7 272.7 586.8 272.5 583.9 272.3 580.9 272.2 577.9 272.0 574.9 271.8 571.9 271.7 568.9 272.0 574.9 271.9 574.1 271.9 573.6 271.9 573.0 271.9 572.4 271.8 571.9 271.9 574.1 271.9 575.7 271.9 574.3 271.7 568.9 271.3 558.8 270.7 544.7 270.1 528.3 269.5 511.1 268.8 494.6 268.3 480.4 267.8 468.4 267.3 457.6 266.9 447.4 266.4 437.7 266.0 428.1 265.7 418.3 265.3 408.5 265.0 399.0 264.6 389.6 264.3 380.2 264.1 370.5 263.8 360.4 263.6 349.7 263.4 338.6 263.2 327.3 263.0 316.0 262.9 304.9 262.8 294.2 262.7 284.0 262.6 274.0 262.6 264.2 262.5 254.7 262.5 245.4 262.5 236.3 262.6 227.4 262.6 218.7 262.7 210.2 262.8 202.0 262.9 194.1 263.0 186.7 263.2 179.6 263.4 172.8 263.6 166.4 263.8 160.4 264.1 154.7 264.3 149.4 264.6 144.5 264.9 140.0 265.2 135.9 265.5 132.1 265.8 128.7 266.2 125.4 266.6 122.5 267.0 119.9 267.4 117.7 267.8 115.7 268.3 113.8 268.8 112.2 269.3 110.7 269.8 109.6 270.4 108.6 271.0 107.7 271.6 107.0 272.2 106.4 272.8 105.9 273.4 105.4 274.0 105.1 274.6 104.9 275.2 104.8 275.8 104.7 276.4 104.8 277.0 104.9 277.6 105.1 278.1 105.3 278.7 105.6 279.2 106.0 279.8 106.4 280.3 106.9 280.8 107.4 281.3 108.0 281.8 108.6 282.4 109.3 282.9 110.0 283.4 110.8 283.9 111.6 284.5 112.5 285.0 113.3 285.5 114.3 286.0 115.2 286.5 116.2 286.9 117.2 287.4 118.3 287.9 119.3 288.4 120.5 288.8 121.6 289.3 122.7 289.7 123.8 290.1 125.0 290.6 126.4 291.2 127.9 291.9 129.7 292.6 131.6 293.4 133.7 294.2 135.8 295.1 138.1 295.9 140.3 296.8 142.6 297.7 145.1 298.6 147.6 299.6 150.1 300.5 152.7 301.4 155.2 302.3 157.8 303.3 160.5 304.2 163.2 305.2 165.8 306.1 168.4 306.9 170.9 307.7 173.3 308.4 175.5 309.1 177.7 309.7 179.8 310.4 182.0 311.1 184.2 311.7 186.4 312.4 188.6 313.0 190.7 313.6 192.9 314.3 195.2 315.0 197.4 315.7 199.7 316.4 202.0 317.2 204.3 317.9 206.7 318.7 209.0 319.4 211.5 320.2 214.1 321.0 217.0 321.9 219.9 322.7 222.6 323.3 225.0 323.9 226.8 324.2 228.0 324.4 228.6 324.5 229.2 324.8 230.0 325.0 230.9 325.2 231.5 325.9 233.9 326.6 236.4 327.3 238.9 328.0 241.4 328.7 244.0 329.4 246.6 330.1 249.2 330.8 251.9 331.6 254.6 332.3 257.4 333.1 260.2 333.8 263.0 334.6 265.9 335.4 268.8 336.2 271.7 337.0 274.7 337.8 277.7 338.6 280.8 339.4 283.9 340.3 287.1 341.1 290.2 341.9 293.5 342.8 296.7 343.7 300.0 344.6 303.4 345.4 306.8 346.3 310.2 347.2 313.6 348.2 317.1 349.1 320.7 350.0 324.3 351.0 327.9 351.9 331.5 352.9 335.2 353.9 338.9 354.8 342.7 355.8 346.5 356.9 350.4 357.9 354.2 358.9 358.1 359.9 362.1 361.0 366.1 362.1 370.1 363.1 374.1 364.2 378.2 365.3 382.3 366.4 386.5 367.6 390.7 368.7 394.9 369.8 399.1 371.0 403.4 372.2 407.7 373.4 412.1 374.5 416.4 375.8 420.8 377.0 425.2 378.2 429.7 379.5 434.2 380.7 438.7 382.0 443.2 383.3 447.7 384.6 452.3 385.9 456.9 387.2 461.5 388.6 466.2 389.9 470.9 391.3 475.5 392.7 480.2 394.1 485.0 395.5 489.7 397.0 494.5 398.4 499.3 399.9 504.0 401.4 508.9 402.9 513.7 404.4 518.5 405.9 523.4 407.5 528.2 409.0 533.1 410.6 538.0 412.2 542.9 413.8 547.8 415.4 552.7 417.1 557.6 418.8 562.5 420.4 567.5 422.1 572.4 423.9 577.4 425.6 582.3 427.4 587.2 429.1 592.2 430.9 597.1 432.8 602.1 434.6 607.1 436.4 612.0 438.3 617.0 440.2 621.9 442.1 626.8 444.1 631.8 446.0 636.7 448.0 641.7 450.0 646.6 452.0 651.5 454.1 656.4 456.1 661.3 458.2 666.2 460.3 671.1 462.4 676.0 464.6 680.8 466.8 685.7 469.0 690.5 471.2 695.4 473.5 700.2 475.7 705.0 478.0 709.8 480.3 714.5 482.7 719.3 485.1 724.1 487.5 728.8 489.9 733.5 492.3 738.2 494.8 742.9 497.3 747.5 499.8 752.2 502.4 756.8 505.0 761.4 507.6 766.0 510.2 770.5 512.9 775.1 515.6 779.6 518.3 784.1 521.1 788.6 523.8 793.1 526.7 797.5 529.5 801.9 532.4 806.3 535.3 810.7 538.2 815.0 541.2 819.3 544.2 823.6 547.2 827.9 550.3 832.1 553.4 836.4 556.5 840.6 559.7 844.7 562.9 848.9 566.1 853.0 569.4 857.1 572.7 861.2 576.0 865.2 579.4 869.2 582.8 873.2 586.3 877.2 589.7 881.1 593.3 885.1 596.8 889.0 600.4 892.8 604.1 896.6 607.7 900.5 611.4 904.2 615.2 908.0 619.0 911.7 622.8 915.4 626.7 919.1 630.6 922.8 634.6 926.4 638.6 930.0 642.6 933.5 646.7 937.1 650.9 940.6 655.0 944.1 659.3 947.6 663.5 951.0 667.8 954.4 672.2 957.8 676.6 961.2 681.1 964.5 685.6 967.8 690.1 971.1 694.7 974.3 699.4 977.6 704.1 980.8 708.8 983.9 713.6 987.1 718.5 990.2 723.4 993.3 728.3 996.4 733.4 999.5 738.4 1002.5 743.5 1005.5 748.7 1008.5 753.9 1011.4 759.2 1014.3 764.6 1017.2 770.0 1020.1 775.4 1023.0 781.0 1025.8 786.5 1028.6 792.2 1031.4 797.9 1034.2 803.6 1036.9 809.4 1039.6 815.3 1042.3 821.3 1045.0 827.3 1047.6 833.4 1050.3 839.5 1052.9 845.7 1055.5 852.0 1058.0 858.3 1060.5 864.7 1063.1 871.2 1065.6 877.7 1068.0 884.4 1070.5 891.0 1072.9 897.8 1075.3 904.6 1077.7 911.5 1080.1 918.5 1082.4 925.6 1084.8 932.7 1087.1 939.9 1089.3 947.2 1091.6 954.6 1093.9 962.0 1096.1 969.5 1098.3 977.1 1100.5 984.8 1102.7 992.6 1104.8 1000.4 1106.9 1008.4 1109.0 1016.4 1111.1 1024.5 1113.2 1032.7 1115.3 1041.0 1117.3 1049.3 1119.3 1057.8 1121.3 1066.4 1123.3 1075.0 1125.3 1083.7 1127.2 1092.6 1129.2 1101.5 1131.1 1110.5 1133.0 1119.6 1134.8 1128.8 1136.7 1138.2 1138.5 1147.6 1140.4 1157.1 1142.2 1166.7 1144.0 1176.4 1145.7 1186.3 1147.5 1196.2 1149.2 1206.2 1151.0 1216.4 1152.7 1226.6 1154.4 1237.0 1156.0 1247.5 1157.7 1258.1 1159.3 1268.8 1161.0 1279.6 1162.6 1290.5 1164.2 1301.6 1165.8 1312.7 1167.3 1324.0 1168.9 1335.4 1170.4 1347.0 1171.9 1358.6 1173.4 1370.4 1174.9 1382.3 1176.4 1394.4 1177.8 1406.5 1179.3 1418.8 1180.7 1431.3 1182.1 1443.8 1183.5 1456.5 1184.9 1469.4 1186.2 1482.3 1187.6 1495.5 1188.9 1508.7 1190.2 1522.1 1191.5 1535.6 1192.8 1549.3 1194.1 1563.2 1195.4 1577.1 1196.6 1591.3 1197.8 1605.6 1199.0 1620.0 1200.2 1634.6 1201.4 1649.3 1202.6 1664.3 1203.8 1679.3 1204.9 1694.5 1206.0 1709.9 1207.2 1725.5 1208.3 1741.2 1209.3 1757.1 1210.4 1773.2 1211.5 1773.7 1212.3 1774.1 1212.9 1774.5 1213.6 1774.8 1214.3 1775.0 1215.0 1775.2 1215.8 1775.3 1216.6 1775.4 1217.5 1775.4 1218.4 1775.3 1219.2 1775.0 1220.0 1774.6 1220.7 1774.0 1221.3 1773.4 1221.8 1772.6 1222.4 1771.8 1222.9 1771.0 1223.5 1770.2 1224.1 1769.3 1224.6 1768.4 1225.2 1767.4 1225.8 1766.3 1226.5 1765.0 1227.3 1763.5 1228.2 1761.8 1229.2 1760.0 1230.2 1758.1 1231.3 1756.1 1232.5 1754.0 1233.7 1751.8 1235.0 1749.4 1236.3 1746.9 1237.8 1744.4 1239.2 1741.9 1240.5 1739.4 1241.8 1737.0 1243.0 1734.7 1244.1 1732.3 1245.2 1730.0 1246.3 1727.5 1247.3 1724.9 1248.2 1722.2 1249.0 1719.3 1249.8 1716.3 1250.4 1713.3 1251.1 1710.3 1251.7 1707.4 1252.3 1704.5 1252.9 1701.5 1253.6 1698.6 1254.2 1695.7 1254.8 1692.8 1255.3 1690.0 1255.8 1687.4 1256.2 1684.9 1256.6 1682.5 1257.0 1679.9 1257.3 1677.2 1257.7 1674.0 1258.0 1670.4 1258.3 1666.5 1258.7 1662.3 1259.0 1658.0 1259.3 1653.5 1259.6 1649.0 1260.0 1644.4 1260.4 1639.7 1260.8 1634.8 1261.2 1629.9 1261.7 1624.9 1262.1 1620.0 1262.5 1615.1 1262.9 1610.1 1263.2 1605.1 1263.5 1600.0 1263.9 1595.0 1264.2 1590.0 1264.5 1584.7 1264.9 1578.9 1265.2 1573.1 1265.6 1567.8 1266.0 1563.3 1266.3 1560.0 1266.5 1540.0 1266.7 263.0 1266.7 263.0 1274.6 1773.2 1274.6" fill="none" stroke="#000" stroke-width="5.75" stroke-linejoin="round" />
<rect x="262" y="46" width="1566" height="1241" fill="none" stroke="#000" stroke-width="4"/>
<g font-family="Liberation Sans, Arial, sans-serif" font-size="50" fill="#000"><text x="218.3" y="1303.0" text-anchor="end">0</text><text x="218.3" y="1220.0" text-anchor="end">10</text><text x="218.3" y="1136.0" text-anchor="end">20</text><text x="218.3" y="1054.0" text-anchor="end">30</text><text x="218.3" y="970.0" text-anchor="end">40</text><text x="218.3" y="888.0" text-anchor="end">50</text><text x="218.3" y="804.0" text-anchor="end">60</text><text x="218.3" y="724.0" text-anchor="end">70</text><text x="218.3" y="640.0" text-anchor="end">80</text><text x="218.3" y="558.0" text-anchor="end">90</text><text x="220.4" y="474.0" text-anchor="end">100</text><text x="220.4" y="392.0" text-anchor="end">110</text><text x="220.4" y="308.0" text-anchor="end">120</text><text x="220.4" y="226.0" text-anchor="end">130</text><text x="220.4" y="144.0" text-anchor="end">140</text><text x="220.4" y="62.0" text-anchor="end">150</text></g>
<g font-family="Liberation Sans, Arial, sans-serif" font-size="50" fill="#000"><text transform="translate(262 1364.5) scale(1 1.07)" text-anchor="middle">0</text><text transform="translate(522 1364.5) scale(1 1.07)" text-anchor="middle">0.1</text><text transform="translate(784 1364.5) scale(1 1.07)" text-anchor="middle">0.2</text><text transform="translate(1044 1364.5) scale(1 1.07)" text-anchor="middle">0.3</text><text transform="translate(1306 1364.5) scale(1 1.07)" text-anchor="middle">0.4</text><text transform="translate(1566 1364.5) scale(1 1.07)" text-anchor="middle">0.5</text><text transform="translate(1828 1364.5) scale(1 1.07)" text-anchor="middle">0.6</text></g>
<text font-family="Liberation Sans, Arial, sans-serif" font-size="59" x="1050" y="1432.8" text-anchor="middle">Piston position (m)</text>
<text font-family="Liberation Sans, Arial, sans-serif" font-size="59.3" transform="translate(74 652) rotate(-90)" text-anchor="middle">Cylinder pressure (bar)</text>
<rect x="1161" y="159" width="546" height="406.5" fill="#fff" stroke="#000" stroke-width="2"/>
<path d="M1214.5 201.0H1324" stroke="#000" stroke-width="5.75" fill="none" />
<path d="M1214.5 281.1H1324" stroke="#000" stroke-width="5.75" fill="none" stroke-dasharray="18 6"/>
<path d="M1214.5 363.2H1320" stroke="#000" stroke-width="5.75" fill="none" stroke-dasharray="24 18 6 18"/>
<path d="M1214.5 443.2H1320" stroke="#000" stroke-width="5.75" fill="none" stroke-dasharray="48 18 6 18 6 18"/>
<path d="M1217.5 525.3H1320" stroke="#000" fill="none" stroke-dasharray="0 12" stroke-linecap="round" stroke-width="5.5"/>
<g font-family="Liberation Sans, Arial, sans-serif" font-size="50" text-anchor="middle"><text x="1503.5" y="217.5">100% of MCR</text><text x="1503.5" y="297.6">75% of MCR</text><text x="1503.5" y="379.8">71% of MCR</text><text x="1503.5" y="459.9">50% of MCR</text><text x="1503.5" y="542.0">40% of MCR</text></g>
</svg></body></html>
